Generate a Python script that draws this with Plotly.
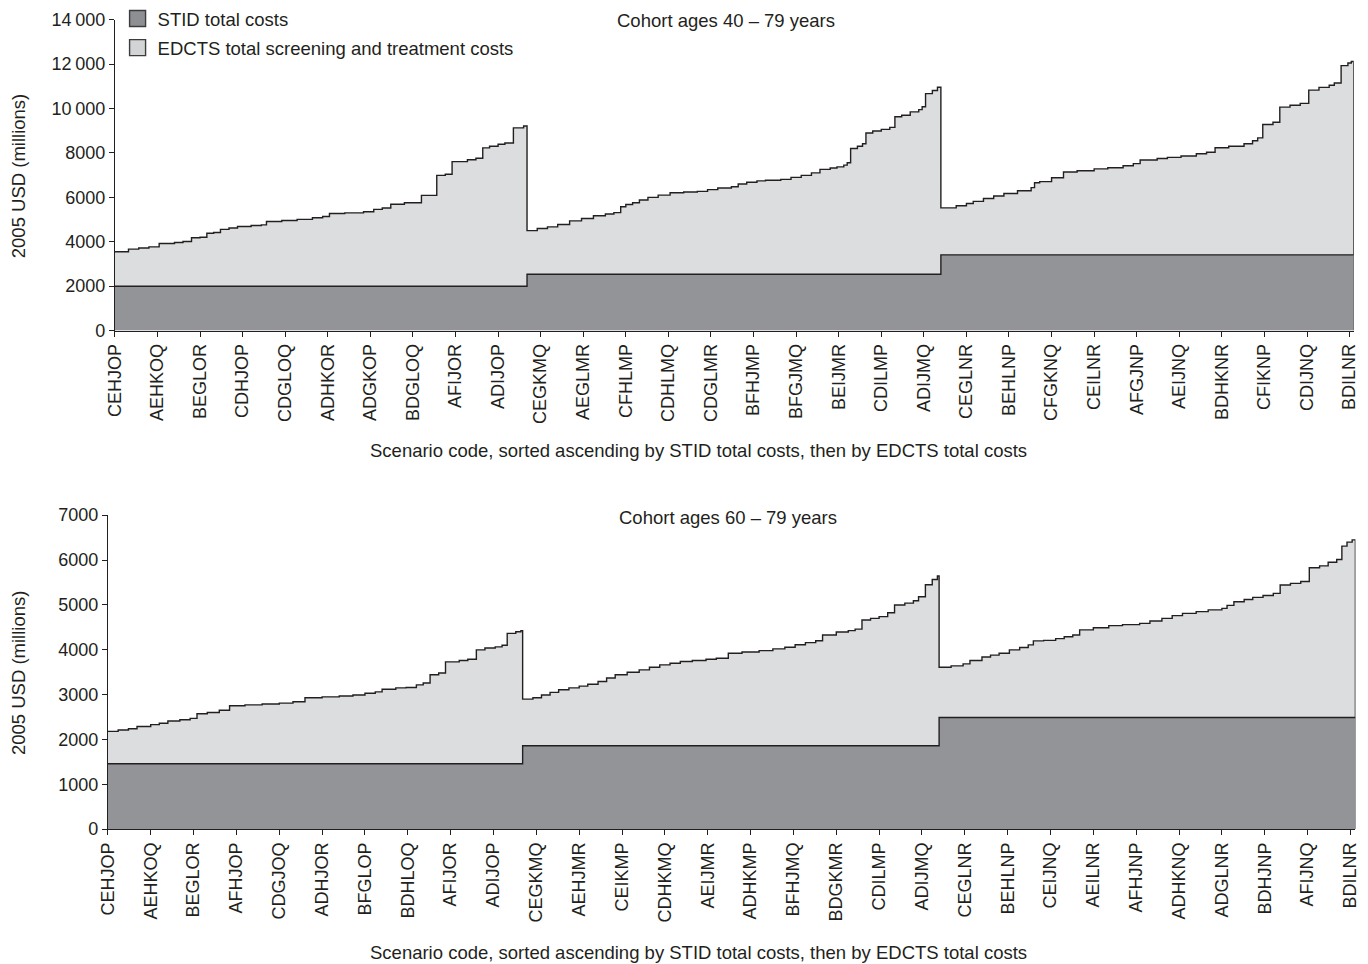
import plotly.graph_objects as go

# ---------------------------------------------------------------
# Scenario costs (2005 USD, millions). Scenarios are indexed 0..728,
# sorted by STID total cost, then by EDCTS total cost.
# Total curves are stored as step points: (scenario index, level).
# ---------------------------------------------------------------

# Tick labels (every 25th scenario)
tick_codes_40 = ["CEHJOP", "AEHKOQ", "BEGLOR", "CDHJOP", "CDGLOQ", "ADHKOR", "ADGKOP",
                 "BDGLOQ", "AFIJOR", "ADIJOP", "CEGKMQ", "AEGLMR", "CFHLMP", "CDHLMQ",
                 "CDGLMR", "BFHJMP", "BFGJMQ", "BEIJMR", "CDILMP", "ADIJMQ", "CEGLNR",
                 "BEHLNP", "CFGKNQ", "CEILNR", "AFGJNP", "AEIJNQ", "BDHKNR", "CFIKNP",
                 "CDIJNQ", "BDILNR"]
tick_codes_60 = ["CEHJOP", "AEHKOQ", "BEGLOR", "AFHJOP", "CDGJOQ", "ADHJOR", "BFGLOP",
                 "BDHLOQ", "AFIJOR", "ADIJOP", "CEGKMQ", "AEHJMR", "CEIKMP", "CDHKMQ",
                 "AEIJMR", "ADHKMP", "BFHJMQ", "BDGKMR", "CDILMP", "ADIJMQ", "CEGLNR",
                 "BEHLNP", "CEIJNQ", "AEILNR", "AFHJNP", "ADHKNQ", "ADGLNR", "BDHJNP",
                 "AFIJNQ", "BDILNR"]
tick_step = 25

# STID cost level per group (first scenario index of each group)
stid_group_start = [0, 242, 485]
stid_40 = [2000, 2540, 3410]
stid_60 = [1460, 1860, 2490]

# Cohort 40-79: total (STID + EDCTS) step points
idx_40 = [0, 8, 14, 20, 26, 35, 40, 45, 50, 54, 58, 62, 67, 72, 80, 86, 89, 98, 107, 116,
          122, 126, 135, 146, 152, 157, 162, 170, 180, 189, 194, 198, 207, 212, 216, 220,
          225, 229, 234, 240,
          242, 248, 254, 260, 267, 274, 281, 288, 293, 297, 300, 304, 308, 313, 319, 326,
          334, 342, 348, 354, 362, 366, 371, 377, 382, 391, 397, 403, 409, 414, 420, 424,
          428, 430, 432, 436, 439, 441, 445, 450, 455, 458, 462, 467, 472, 474, 476, 480,
          483,
          485, 494, 500, 504, 510, 516, 522, 530, 538, 540, 543, 550, 557, 565, 575, 583,
          592, 598, 602, 612, 618, 626, 635, 641, 646, 654, 663, 668, 671, 674, 680, 684,
          690, 696, 701, 707, 713, 716, 720, 724, 726]
total_40 = [3550, 3670, 3720, 3770, 3920, 3970, 4010, 4180, 4200, 4385, 4420, 4560, 4620,
            4690, 4730, 4760, 4910, 4960, 5010, 5080, 5140, 5270, 5300, 5350, 5460, 5520,
            5690, 5760, 6090, 6990, 7040, 7610, 7690, 7760, 8230, 8300, 8390, 8450, 9130,
            9210,
            4500, 4600, 4670, 4780, 4940, 5050, 5170, 5250, 5310, 5580, 5680, 5760, 5880,
            6000, 6100, 6210, 6240, 6270, 6350, 6420, 6480, 6600, 6680, 6740, 6770, 6810,
            6900, 6990, 7100, 7260, 7320, 7370, 7450, 7560, 8200, 8300, 8414, 8900, 8990,
            9060, 9150, 9630, 9700, 9850, 9950, 10080, 10670, 10810, 10960,
            5525, 5620, 5720, 5820, 5950, 6060, 6170, 6300, 6440, 6660, 6710, 6880, 7140,
            7200, 7280, 7336, 7420, 7520, 7680, 7750, 7800, 7860, 7960, 8030, 8234, 8300,
            8414, 8550, 8680, 9281, 9380, 10063, 10150, 10230, 10827, 10950, 11050, 11150,
            11932, 12050, 12114]

# Cohort 60-79: total (STID + EDCTS) step points
idx_60 = [0, 6, 12, 17, 25, 30, 35, 42, 48, 52, 58, 65, 71, 80, 90, 100, 108, 115, 125,
          135, 143, 150, 156, 160, 168, 174, 180, 184, 188, 193, 197, 205, 210, 215, 220,
          226, 230, 233, 238, 241,
          242, 248, 253, 258, 263, 269, 275, 280, 286, 291, 296, 303, 310, 316, 322, 328,
          334, 341, 349, 355, 362, 370, 380, 388, 395, 401, 407, 413, 417, 425, 432, 436,
          440, 445, 450, 455, 459, 465, 470, 473, 477, 481, 484,
          485, 492, 499, 503, 510, 515, 520, 526, 532, 537, 540, 546, 553, 558, 563, 567,
          575, 584, 592, 602, 608, 615, 621, 627, 635, 642, 650, 653, 657, 663, 668, 674,
          680, 684, 690, 696, 701, 707, 712, 717, 720, 723, 726]
total_60 = [2180, 2210, 2240, 2290, 2330, 2360, 2410, 2440, 2470, 2573, 2600, 2650, 2751,
            2770, 2790, 2810, 2840, 2929, 2950, 2970, 2990, 3030, 3060, 3121, 3150, 3160,
            3218, 3260, 3441, 3480, 3730, 3760, 3788, 3997, 4040, 4064, 4100, 4366, 4400,
            4426,
            2899, 2930, 2990, 3050, 3107, 3150, 3190, 3230, 3292, 3370, 3441, 3500, 3552,
            3610, 3663, 3700, 3737, 3760, 3788, 3810, 3921, 3950, 3981, 4020, 4055, 4110,
            4159, 4200, 4330, 4397, 4426, 4460, 4664, 4700, 4738, 4826, 4998, 5040, 5093,
            5182, 5449, 5567, 5643,
            3610, 3640, 3685, 3759, 3840, 3880, 3921, 3997, 4050, 4108, 4197, 4210, 4248,
            4290, 4330, 4442, 4490, 4537, 4560, 4589, 4640, 4700, 4760, 4811, 4850, 4890,
            4922, 4990, 5071, 5120, 5167, 5210, 5256, 5442, 5480, 5520, 5827, 5870, 5950,
            6012, 6310, 6400, 6450]

# ---------------------------------------------------------------
FONT = "Liberation Sans, Arial, Helvetica, sans-serif"
INK = "#231f20"
DARK_FILL = "#939497"
LIGHT_FILL = "#dcdddf"
PAGE_MARGIN = 8                      # default body margin of the html page
W, H = 1368, 964
VIEW_SX, VIEW_SY = 1368 / 1384, 964 / 980   # page-to-window scaling of the viewer
TEXT_SIZE = 18.5
TICK_SIZE = 18


def px_x(p):
    """window pixel column -> paper x"""
    p = p - 1.5
    return (p / VIEW_SX - PAGE_MARGIN) / W


def px_y(p):
    """window pixel row -> paper y"""
    p = (p - 5.2) / 0.9914
    return 1 - (p / VIEW_SY - PAGE_MARGIN) / H


fig = go.Figure()


def add_panel(xa, ya, idx, total, stid, x_end):
    # total cost area (light) with right-hand closing edge
    xs = list(idx) + [x_end, x_end]
    ys = list(total) + [total[-1], 0]
    fig.add_trace(go.Scatter(
        x=xs, y=ys, mode="lines", line=dict(shape="hv", color=INK, width=1.4),
        fill="tozeroy", fillcolor=LIGHT_FILL, xaxis=xa, yaxis=ya,
        showlegend=False, hoverinfo="skip"))
    # STID cost area (dark) drawn on top
    sx = list(stid_group_start) + [x_end]
    sy = list(stid) + [stid[-1]]
    fig.add_trace(go.Scatter(
        x=sx, y=sy, mode="lines", line=dict(shape="hv", color=INK, width=1.4),
        fill="tozeroy", fillcolor=DARK_FILL, xaxis=xa, yaxis=ya,
        showlegend=False, hoverinfo="skip"))


X_END_40 = 727.4
X_END_60 = 727.9
add_panel("x", "y", idx_40, total_40, stid_40, X_END_40)
add_panel("x2", "y2", idx_60, total_60, stid_60, X_END_60)

# legend entries
fig.add_trace(go.Scatter(
    x=[None], y=[None], mode="markers", name="STID total costs", legendgroup="a",
    marker=dict(symbol="square", size=18, color="#8e8f92", line=dict(color="#3c3c3c", width=1.4))))
fig.add_trace(go.Scatter(
    x=[None], y=[None], mode="markers", name="EDCTS total screening and treatment costs",
    legendgroup="b",
    marker=dict(symbol="square", size=18, color="#d3d4d6", line=dict(color="#3c3c3c", width=1.4))))


def fmt(v):
    s = str(v)
    return s[:-3] + "\u2009" + s[-3:] if v >= 10000 else s


axis_common = dict(showline=True, linecolor=INK, linewidth=1.2, ticks="outside",
                   ticklen=5, tickwidth=1.2, tickcolor=INK, showgrid=False,
                   zeroline=False, tickfont=dict(family=FONT, size=TICK_SIZE, color=INK))

ticks40 = [i * tick_step for i in range(len(tick_codes_40))]
ticks60 = [i * tick_step for i in range(len(tick_codes_60))]
yv40 = list(range(0, 14001, 2000))
yv60 = list(range(0, 7001, 1000))

fig.update_layout(
    width=W, height=H, margin=dict(l=0, r=0, t=0, b=0),
    paper_bgcolor="white", plot_bgcolor="white",
    font=dict(family=FONT, size=TEXT_SIZE, color=INK),
    xaxis=dict(domain=[px_x(114.3), px_x(1353.3)], range=[0, X_END_40], anchor="y",
               tickvals=ticks40, ticktext=tick_codes_40, tickangle=-90, **axis_common),
    yaxis=dict(domain=[px_y(328.3), px_y(16.7)], range=[0, 14000], anchor="x",
               tickvals=yv40, ticktext=[fmt(v) for v in yv40], **axis_common),
    xaxis2=dict(domain=[px_x(107.3), px_x(1355)], range=[0, X_END_60], anchor="y2",
                tickvals=ticks60, ticktext=tick_codes_60, tickangle=-90, **axis_common),
    yaxis2=dict(domain=[px_y(828), px_y(513.3)], range=[0, 7000], anchor="x2",
                tickvals=yv60, ticktext=[fmt(v) for v in yv60], **axis_common),
    legend=dict(x=px_x(117), y=px_y(-3), xanchor="left", yanchor="top",
                bgcolor="rgba(0,0,0,0)", font=dict(family=FONT, size=TEXT_SIZE, color=INK),
                traceorder="grouped", tracegroupgap=2, itemsizing="trace"),
)

xtitle = "Scenario code, sorted ascending by STID total costs, then by EDCTS total costs"
ann = [
    dict(text="Cohort ages 40 – 79 years", x=px_x(726), y=px_y(18)),
    dict(text="Cohort ages 60 – 79 years", x=px_x(728), y=px_y(516)),
    dict(text=xtitle, x=px_x(698), y=px_y(448)),
    dict(text=xtitle, x=px_x(698), y=px_y(952)),
    dict(text="2005 USD (millions)", x=px_x(18), y=px_y(173), textangle=-90),
    dict(text="2005 USD (millions)", x=px_x(18), y=px_y(671), textangle=-90),
]
for a in ann:
    fig.add_annotation(xref="paper", yref="paper", xanchor="center", yanchor="middle",
                       showarrow=False, font=dict(family=FONT, size=TEXT_SIZE, color=INK), **a)

fig.write_html("out.html")
